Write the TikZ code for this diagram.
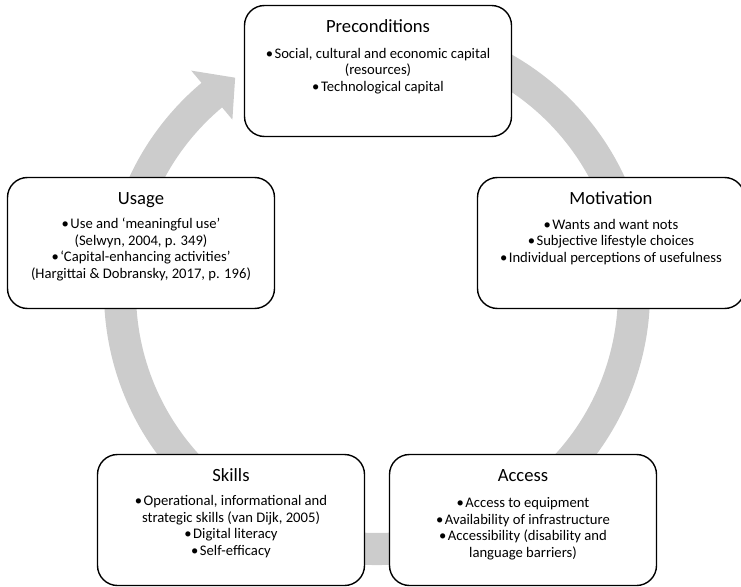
\documentclass[tikz,border=0pt]{standalone}
\usepackage{fontspec}
\setmainfont{Carlito}
\usetikzlibrary{calc}
\definecolor{ringgray}{RGB}{204,204,204}
\newcommand{\bul}{•\hspace{1.5bp}}
\begin{document}
\begin{tikzpicture}[x=1bp,y=-1bp,
  box/.style={draw=black, line width=1.4bp, fill=white, rounded corners=20bp,
    minimum width=267bp, minimum height=131bp, inner sep=0pt},
  ttl/.style={anchor=base, inner sep=0pt, font=\fontsize{18.7}{22}\selectfont},
  bodytxt/.style={anchor=base, inner sep=0pt, align=center,
    font=\fontsize{14.7}{16.6}\selectfont}
]
\useasboundingbox (0,0) rectangle (741,587);
\clip (0,0) rectangle (741,587);
% cycle ring with arrowhead
\coordinate (C) at (377,292);
\fill[ringgray] ($(C)+(-100:273)$) arc[start angle=-100,end angle=230,radius=273]
  -- ($(C)+(230:289)$) -- ($(C)+(236.5:257)$) -- ($(C)+(230:225)$)
  -- ($(C)+(230:241)$) arc[start angle=230,end angle=-100,radius=241] -- cycle;
% boxes
\node[box] (pre) at (378,71) {};
\node[box] (use) at (141,243) {};
\node[box] (mot) at (611,243) {};
\node[box] (ski) at (231,520) {};
\node[box] (acc) at (523,520) {};
% titles
\node[ttl] (pret) at ($(pre.north)+(0,27.5)$) {Preconditions};
\node[ttl] (uset) at ($(use.north)+(0,27.5)$) {Usage};
\node[ttl] (mott) at ($(mot.north)+(0,27.5)$) {Motivation};
\node[ttl] (skit) at ($(ski.north)+(0,27.5)$) {Skills};
\node[ttl] (acct) at ($(acc.north)+(0,27.5)$) {Access};
% bodies (anchored at the baseline of their last line)
\node[bodytxt] (preb) at ($(pret.base)+(0,59.2)$) {\bul Social, cultural and economic capital\\(resources)\\\bul Technological capital};
\node[bodytxt] (useb) at ($(uset.base)+(0,73.8)$) {\bul Use and ‘meaningful use’\\(Selwyn, 2004, p. 349)\\\bul ‘Capital-enhancing activities’\\(Hargittai \& Dobransky, 2017, p. 196)};
\node[bodytxt] (motb) at ($(mott.base)+(0,58.2)$) {\bul Wants and want nots\\\bul Subjective lifestyle choices\\\bul Individual perceptions of usefulness};
\node[bodytxt] (skib) at ($(skit.base)+(0,73.8)$) {\bul Operational, informational and\\strategic skills (van Dijk, 2005)\\\bul Digital literacy\\\bul Self-efficacy};
\node[bodytxt] (accb) at ($(acct.base)+(0,75.8)$) {\bul Access to equipment\\\bul Availability of infrastructure\\\bul Accessibility (disability and\\language barriers)};
\end{tikzpicture}
\end{document}
